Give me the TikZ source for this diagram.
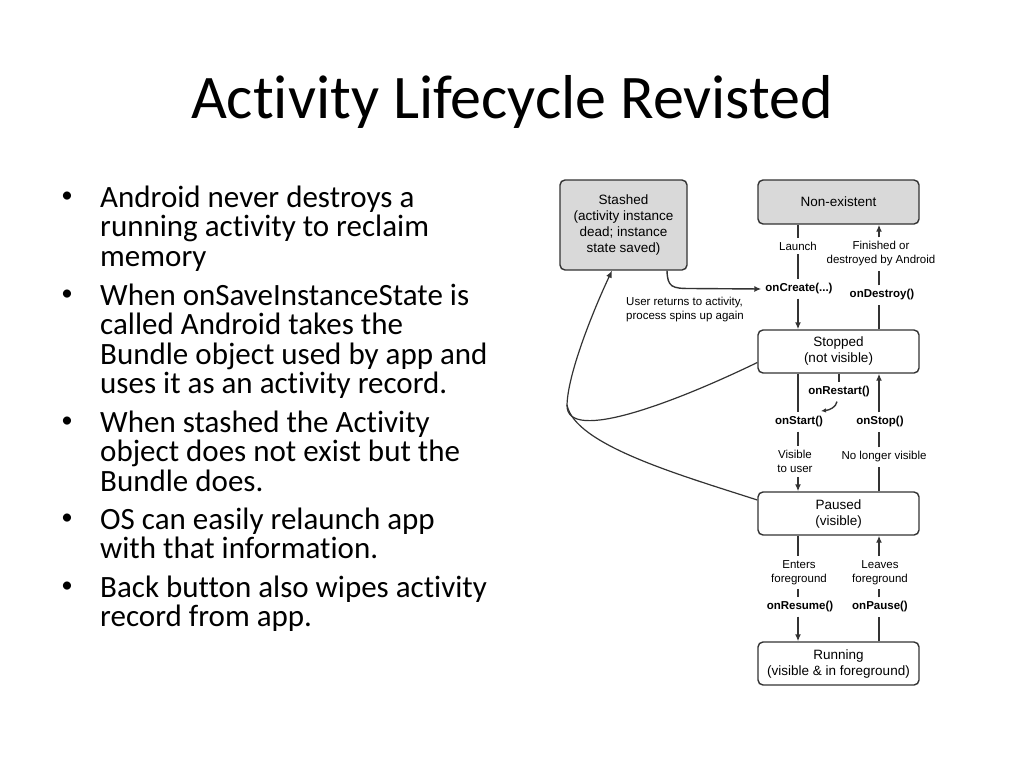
\documentclass[tikz,border=0pt]{standalone}
\usepackage{fontspec}
\setmainfont{Carlito}[RawFeature={-liga;-clig;-calt;-dlig;-rlig}]
\newfontfamily\diag{Liberation Sans}
\usetikzlibrary{arrows.meta}
\definecolor{lc}{HTML}{333333}
\definecolor{boxgray}{HTML}{D9D9D9}
\begin{document}
\begin{tikzpicture}[x=1pt,y=-1pt,
  box/.style={draw=lc, line width=1.4pt, rounded corners=5pt, align=center,
    font=\diag\fontsize{13.5}{16}\selectfont, inner sep=0pt,
    minimum width=161pt, minimum height=43pt},
  lbl/.style={font=\diag\fontsize{11.5}{14}\selectfont, align=center, inner sep=4pt},
  blbl/.style={font=\diag\bfseries\fontsize{11.5}{14}\selectfont, inner sep=4pt},
  conn/.style={draw=lc, line width=1.4pt},
  arr/.style={conn, -{Latex[length=7pt,width=6pt]}},
  bul/.style={anchor=base west, inner sep=0pt, font=\fontsize{31}{29.5}\selectfont},
  dot/.style={anchor=center, inner sep=0pt, font=\fontsize{23}{23}\selectfont},
]
\useasboundingbox[fill=white] (0,0) rectangle (1024,768);

% title
\node[anchor=base, inner sep=0pt, font=\fontsize{62}{70}\selectfont] (title) at (512,118) {Activity Lifecycle Revisted};

% bullets
\node[dot] (d1) at (67,197) {•};
\node[bul] (b1a) at (100,207) {Android never destroys a};
\node[bul] (b1b) at (100,236.5) {running activity to reclaim};
\node[bul] (b1c) at (100,266) {memory};
\node[dot] (d2) at (67,295) {•};
\node[bul] (b2a) at (100,305) {When onSaveInstanceState is};
\node[bul] (b2b) at (100,334.5) {called Android takes the};
\node[bul] (b2c) at (100,364) {Bundle object used by app and};
\node[bul] (b2d) at (100,393.5) {uses it as an activity record.};
\node[dot] (d3) at (67,422) {•};
\node[bul] (b3a) at (100,432) {When stashed the Activity};
\node[bul] (b3b) at (100,461.5) {object does not exist but the};
\node[bul] (b3c) at (100,491) {Bundle does.};
\node[dot] (d4) at (67,519) {•};
\node[bul] (b4a) at (100,529) {OS can easily relaunch app};
\node[bul] (b4b) at (100,558.5) {with that information.};
\node[dot] (d5) at (67,587) {•};
\node[bul] (b5a) at (100,597) {Back button also wipes activity};
\node[bul] (b5b) at (100,626.5) {record from app.};

% diagram boxes
\node[box, fill=boxgray, minimum width=127pt, minimum height=90pt] (stashed) at (623.5,225) {Stashed\\(activity instance\\dead; instance\\state saved)};
\node[box, fill=boxgray, minimum height=44pt] (nonex) at (838.5,202) {Non-existent};
\node[box, fill=white] (stopped) at (838.5,351.5) {Stopped\\(not visible)};
\node[box, fill=white] (paused) at (838.5,513.5) {Paused\\(visible)};
\node[box, fill=white] (running) at (838.5,663.5) {Running\\(visible \& in foreground)};

\coordinate (colL) at (798,0);
\coordinate (colR) at (879,0);

% labels
\node[lbl] (launch) at (798,246) {Launch};
\node[blbl] (oncreate) at (799,289) {onCreate(...)};
\node[lbl] (finished) at (881,254) {Finished or\\destroyed by Android};
\node[blbl] (ondestroy) at (882,295) {onDestroy()};
\node[lbl, align=left, inner sep=0pt] (userret) at (685,310) {User returns to activity,\\process spins up again};
\node[blbl] (onrestart) at (839,392) {onRestart()};
\node[blbl] (onstart) at (799,422) {onStart()};
\node[blbl] (onstop) at (880,422) {onStop()};
\node[lbl] (visible) at (795,461.5) {Visible\\to user};
\node[lbl] (nolonger) at (884,457) {No longer visible};
\node[lbl] (enters) at (799,572.5) {Enters\\foreground};
\node[lbl] (leaves) at (880,572.5) {Leaves\\foreground};
\node[blbl] (onresume) at (800,607) {onResume()};
\node[blbl] (onpause) at (880,607) {onPause()};

\coordinate (rsend) at (821,411);
\coordinate (merge) at (567,405);

% left column: Non-existent -> Stopped
\draw[conn] (nonex.south -| colL) -- (launch.north -| colL);
\draw[conn] (launch.south -| colL) -- (oncreate.north -| colL);
\draw[arr] (oncreate.south -| colL) -- (stopped.north -| colL);
% right column: Stopped -> Non-existent
\draw[conn] (stopped.north -| colR) -- (ondestroy.south -| colR);
\draw[conn] (ondestroy.north -| colR) -- (finished.south -| colR);
\draw[arr] (finished.north -| colR) -- (nonex.south -| colR);

% Stashed -> onCreate
\draw[arr] ([xshift=43.5pt]stashed.south) .. controls (667.5,287) and (672,288.5) .. (690,288.5) -- (oncreate.west);

% onRestart
\draw[conn] (stopped.south -| onrestart) -- (onrestart.north);
\draw[conn, -{Latex[length=5pt,width=4.5pt]}] ([xshift=-2pt]onrestart.south) .. controls (836,407) and (830,410) .. (rsend);

% Stopped -> Paused
\draw[conn] (stopped.south -| colL) -- (onstart.north -| colL);
\draw[conn] (onstart.south -| colL) -- (visible.north -| colL);
\draw[arr] (visible.south -| colL) -- (paused.north -| colL);
% Paused -> Stopped
\draw[conn] (paused.north -| colR) -- (nolonger.south -| colR);
\draw[conn] (nolonger.north -| colR) -- (onstop.south -| colR);
\draw[arr] (onstop.north -| colR) -- (stopped.south -| colR);

% Paused -> Running
\draw[conn] (paused.south -| colL) -- (enters.north -| colL);
\draw[conn] (enters.south -| colL) -- (onresume.north -| colL);
\draw[arr] (onresume.south -| colL) -- (running.north -| colL);
% Running -> Paused
\draw[conn] (running.north -| colR) -- (onpause.south -| colR);
\draw[conn] (onpause.north -| colR) -- (leaves.south -| colR);
\draw[arr] (leaves.north -| colR) -- (paused.south -| colR);

% Stopped / Paused -> Stashed
\draw[conn, line width=1.2pt] ([yshift=-11pt]stopped.west) .. controls (680,400) and (566,445) .. (merge);
\draw[conn, line width=1.2pt] ([yshift=13.5pt]paused.west) .. controls (680,475) and (575,445) .. (merge);
\draw[arr, line width=1.2pt] (merge) .. controls (568,370) and (598,300) .. ([xshift=-11.5pt]stashed.south);
\end{tikzpicture}
\end{document}
